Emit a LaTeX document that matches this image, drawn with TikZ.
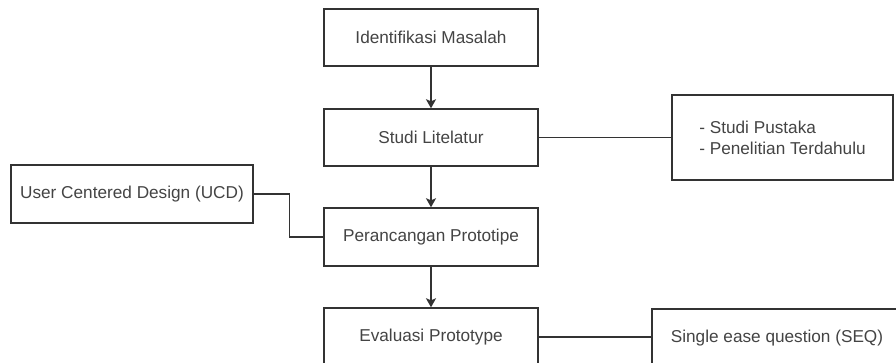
\documentclass[tikz,border=0pt]{standalone}
\usepackage{fontspec}
\setmainfont{Liberation Sans}
\usetikzlibrary{arrows.meta}
\definecolor{linec}{HTML}{333333}
\definecolor{textc}{HTML}{444444}
\begin{document}
\begin{tikzpicture}[x=1pt,y=-1pt,
  box/.style={draw=linec, line width=1.4pt, fill=white, text=textc, inner sep=0pt,
    font=\fontsize{17.2}{21}\selectfont},
  flow/.style={draw=linec, line width=1.4pt, -{Stealth[length=9pt,width=10pt,inset=2pt]}},
  link/.style={draw=linec, line width=1.4pt}]
\clip (0,0) rectangle (896,363);
\fill[white] (0,0) rectangle (896,363);
\node[box, minimum width=221pt, minimum height=85pt, align=left] (pust) at (782.5,137.5) {- Studi Pustaka\\- Penelitian Terdahulu};
\node[box, minimum width=214pt, minimum height=57pt] (ident) at (431,37.5) {Identifikasi Masalah};
\node[box, minimum width=214pt, minimum height=57pt] (studi) at (431,137.5) {Studi Litelatur};
\node[box, minimum width=242pt, minimum height=58pt] (ucd) at (132,194) {User Centered Design (UCD)};
\node[box, minimum width=214pt, minimum height=58pt] (peran) at (431,237) {Perancangan Prototipe};
\node[box, minimum width=214pt, minimum height=58pt] (eval) at (431,337) {Evaluasi Prototype};
\node[box, minimum width=250pt, minimum height=58pt] (seq) at (777,338) {Single ease question (SEQ)};
\draw[flow] (ident) -- (studi);
\draw[flow] (studi) -- (peran);
\draw[flow] (peran) -- (eval);
\draw[link] (studi.east) -- (pust.west |- studi.east);
\draw[link] (ucd.east) -- ++(36,0) |- (peran.west);
\draw[link] (eval.east) -- (seq.west |- eval.east);
\end{tikzpicture}
\end{document}
